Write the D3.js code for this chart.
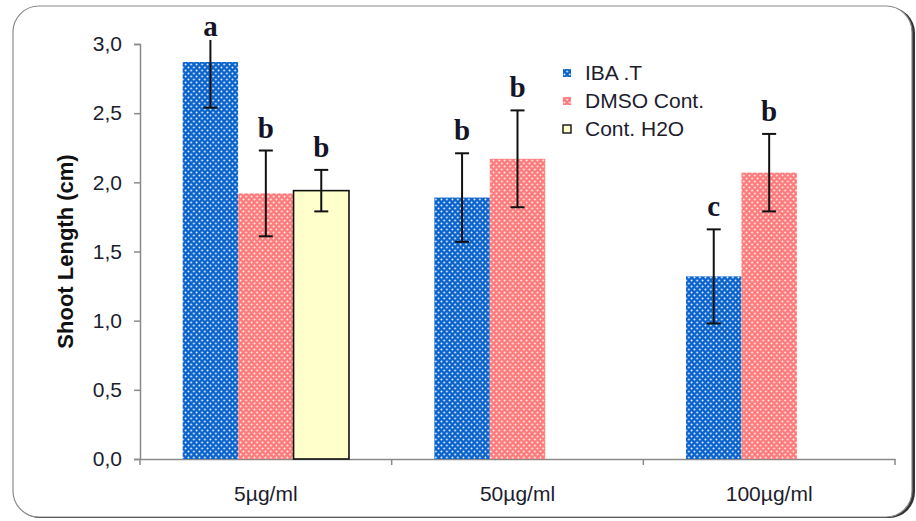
<!DOCTYPE html>
<html>
<head>
<meta charset="utf-8">
<script src="https://cdn.jsdelivr.net/npm/d3@7"></script>
<style>
  body { margin: 0; background: #fff; }
  text { font-family: Arial, "Liberation Sans", sans-serif; }
</style>
</head>
<body>
<div class="canvas"></div>
<script>
const categories = ['5µg/ml', '50µg/ml', '100µg/ml'];
const series = ['IBA .T', 'DMSO Cont.', 'Cont. H2O'];

const ibaMeans = [2.87, 1.89, 1.32];
const ibaErr = [0.33, 0.32, 0.34];
const dmsoMeans = [1.92, 2.17, 2.07];
const dmsoErr = [0.31, 0.35, 0.28];
const h2oMeans = [1.94, null, null];
const h2oErr = [0.15, null, null];

const ibaLetters = ['a', 'b', 'c'];
const dmsoLetters = ['b', 'b', 'b'];
const h2oLetters = ['b', null, null];

const yTicks = [0, 0.5, 1, 1.5, 2, 2.5, 3];

const dims = { width: 916, height: 521 };
const plot = { left: 140, right: 895, top: 44, bottom: 459 };

const svg = d3.select('.canvas')
    .append('svg')
    .attr('width', dims.width)
    .attr('height', dims.height)
;

// patterns: solid colour with white dots
const defs = svg.append('defs');
const makeDots = (id, fill) => {
    const p = defs.append('pattern')
        .attr('id', id)
        .attr('patternUnits', 'userSpaceOnUse')
        .attr('width', 5.5)
        .attr('height', 6);
    p.append('rect').attr('width', 5.5).attr('height', 6).attr('fill', fill);
    p.append('circle').attr('cx', 1.4).attr('cy', 1.5).attr('r', 0.9).attr('fill', '#fff');
    p.append('circle').attr('cx', 4.15).attr('cy', 4.5).attr('r', 0.9).attr('fill', '#fff');
};
makeDots('dotBlue', '#0a63cc');
makeDots('dotPink', '#ff7a7a');

const fills = ['url(#dotBlue)', 'url(#dotPink)', '#ffffcc'];
const strokes = ['none', 'none', '#111'];

defs.append('clipPath').attr('id', 'plotClip')
    .append('rect')
    .attr('x', plot.left).attr('y', plot.top - 4)
    .attr('width', plot.right - plot.left).attr('height', plot.bottom - plot.top + 4);

// frame
svg.append('rect')
    .attr('x', 14).attr('y', 7)
    .attr('width', 901).attr('height', 511)
    .attr('rx', 26)
    .attr('fill', '#333');
svg.append('rect')
    .attr('x', 13).attr('y', 6)
    .attr('width', 899).attr('height', 511)
    .attr('rx', 26)
    .attr('fill', '#fff')
    .attr('stroke', '#8a8a8a')
    .attr('stroke-width', 1.2);

const x0 = d3.scaleBand()
    .domain(categories)
    .range([plot.left, plot.right])
    .padding(0);

const x1 = d3.scaleBand()
    .domain(series)
    .range([0, x0.bandwidth()])
    .paddingInner(0)
    .paddingOuter(0.77);

const y = d3.scaleLinear()
    .domain([0, 3])
    .range([plot.bottom, plot.top]);

const fmt = v => d3.format('.1f')(v).replace('.', ',');

// y axis
const yAxis = svg.append('g')
    .attr('transform', `translate(${plot.left},0)`)
    .call(d3.axisLeft(y).tickValues(yTicks).tickFormat(fmt).tickSize(6).tickPadding(12));
yAxis.select('.domain').attr('stroke', '#8a8a8a').attr('stroke-width', 1.5);
yAxis.selectAll('.tick line').attr('stroke', '#8a8a8a').attr('stroke-width', 1.5);
yAxis.selectAll('.tick text')
    .attr('font-size', 21)
    .attr('fill', '#1c1c2e')
    .style('font-family', 'Arial, "Liberation Sans", sans-serif');

// x axis
const xAxis = svg.append('g')
    .attr('transform', `translate(0,${plot.bottom})`)
    .call(d3.axisBottom(x0).tickSize(0).tickPadding(27));
xAxis.select('.domain').attr('stroke', '#8a8a8a').attr('stroke-width', 1.5);
xAxis.selectAll('.tick text')
    .attr('font-size', 21)
    .attr('fill', '#1c1c2e')
    .style('font-family', 'Arial, "Liberation Sans", sans-serif');

const bounds = categories.map(c => x0(c)).concat([x0.range()[1]]);
svg.append('g').selectAll('line')
    .data(bounds)
    .enter()
    .append('line')
    .attr('x1', d => d).attr('x2', d => d)
    .attr('y1', plot.bottom).attr('y2', plot.bottom + 6)
    .attr('stroke', '#8a8a8a')
    .attr('stroke-width', 1.5);

// axis title
svg.append('text')
    .attr('transform', `translate(73,${(plot.top + plot.bottom) / 2}) rotate(-90)`)
    .attr('text-anchor', 'middle')
    .attr('font-size', 22)
    .attr('font-weight', 'bold')
    .attr('fill', '#111')
    .text('Shoot Length (cm)');

// data rows
const means = [ibaMeans, dmsoMeans, h2oMeans];
const errs = [ibaErr, dmsoErr, h2oErr];
const letters = [ibaLetters, dmsoLetters, h2oLetters];

const rows = [];
series.forEach((s, si) => {
    categories.forEach((c, ci) => {
        if (means[si][ci] == null) return;
        rows.push({
            cat: c, series: s, si,
            mean: means[si][ci],
            err: errs[si][ci],
            letter: letters[si][ci]
        });
    });
});

const bars = svg.append('g');
bars.selectAll('rect')
    .data(rows)
    .enter()
    .append('rect')
    .attr('x', d => x0(d.cat) + x1(d.series))
    .attr('y', d => y(d.mean))
    .attr('width', x1.bandwidth())
    .attr('height', d => y(0) - y(d.mean))
    .attr('fill', d => fills[d.si])
    .attr('stroke', d => strokes[d.si])
    .attr('stroke-width', 1.6)
;

// error bars
const errG = svg.append('g').attr('clip-path', 'url(#plotClip)');
const cx = d => x0(d.cat) + x1(d.series) + x1.bandwidth() / 2;
const capW = 7;

errG.selectAll('line.stem')
    .data(rows)
    .enter()
    .append('line')
    .attr('class', 'stem')
    .attr('x1', cx).attr('x2', cx)
    .attr('y1', d => y(d.mean + d.err))
    .attr('y2', d => y(d.mean - d.err))
    .attr('stroke', '#111').attr('stroke-width', 2);

['plus', 'minus'].forEach((k) => {
    errG.selectAll(`line.cap-${k}`)
        .data(rows)
        .enter()
        .append('line')
        .attr('class', `cap-${k}`)
        .attr('x1', d => cx(d) - capW).attr('x2', d => cx(d) + capW)
        .attr('y1', d => y(k === 'plus' ? d.mean + d.err : d.mean - d.err))
        .attr('y2', d => y(k === 'plus' ? d.mean + d.err : d.mean - d.err))
        .attr('stroke', '#111').attr('stroke-width', 2);
});

// significance letters
svg.append('g').selectAll('text')
    .data(rows)
    .enter()
    .append('text')
    .attr('x', cx)
    .attr('y', d => Math.max(y(d.mean + d.err) - 13, plot.top - 8))
    .attr('text-anchor', 'middle')
    .attr('font-size', 29)
    .attr('font-weight', 'bold')
    .style('font-family', '"Liberation Serif", "Times New Roman", serif')
    .attr('fill', '#141428')
    .text(d => d.letter);

// legend
const legend = svg.append('g').attr('transform', 'translate(563,73)');
const items = legend.selectAll('g')
    .data(series)
    .enter()
    .append('g')
    .attr('transform', (d, i) => `translate(0,${i * 28})`);
items.append('rect')
    .attr('x', 0).attr('y', -4)
    .attr('width', 8).attr('height', 8)
    .attr('fill', (d, i) => fills[i])
    .attr('stroke', (d, i) => strokes[i])
    .attr('stroke-width', 1.4);
items.append('text')
    .attr('x', 22)
    .attr('y', 7)
    .attr('font-size', 21)
    .attr('fill', '#1c1c2e')
    .text(d => d);
</script>
</body>
</html>
